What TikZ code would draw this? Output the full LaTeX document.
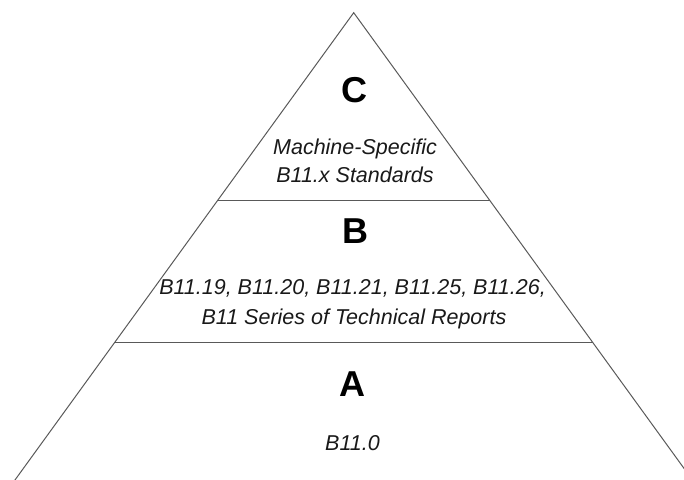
\documentclass[tikz,border=0pt]{standalone}
\usepackage{fontspec}
\setmainfont{Liberation Sans}
\begin{document}
\begin{tikzpicture}[x=1pt,y=1pt,
  edge/.style={draw=black!65,line width=1.0pt},
  tier/.style={inner sep=0pt,anchor=base,font=\fontsize{36}{40}\selectfont\bfseries},
  desc/.style={inner sep=0pt,anchor=base,font=\fontsize{21.5}{26}\selectfont\itshape,text=black!90}]
\useasboundingbox (0,0) rectangle (684,479);
\clip (0,0) rectangle (684,479);
\coordinate (apex) at (353.7,466.3);
\coordinate (bl) at (1.2,-20);
\coordinate (br) at (706.2,-20);
\coordinate (cl) at (217.2,278);
\coordinate (cr) at (490.2,278);
\coordinate (al) at (114.8,136.7);
\coordinate (ar) at (592.6,136.7);
\draw[edge] (bl) -- (apex) -- (br);
\draw[edge] (cl) -- (cr);
\draw[edge] (al) -- (ar);
\node[tier] (C) at (354.5,376) {C};
\node[desc] (c1) at (355,324) {Machine-Specific};
\node[desc] (c2) at (355,296) {B11.x Standards};
\node[tier] (B) at (355,235.7) {B};
\node[desc] (b1) at (352.5,184) {B11.19, B11.20, B11.21, B11.25, B11.26,};
\node[desc] (b2) at (354,154) {B11 Series of Technical Reports};
\node[tier] (A) at (352.5,82.3) {A};
\node[desc] (a1) at (352.5,28.3) {B11.0};
\end{tikzpicture}
\end{document}
